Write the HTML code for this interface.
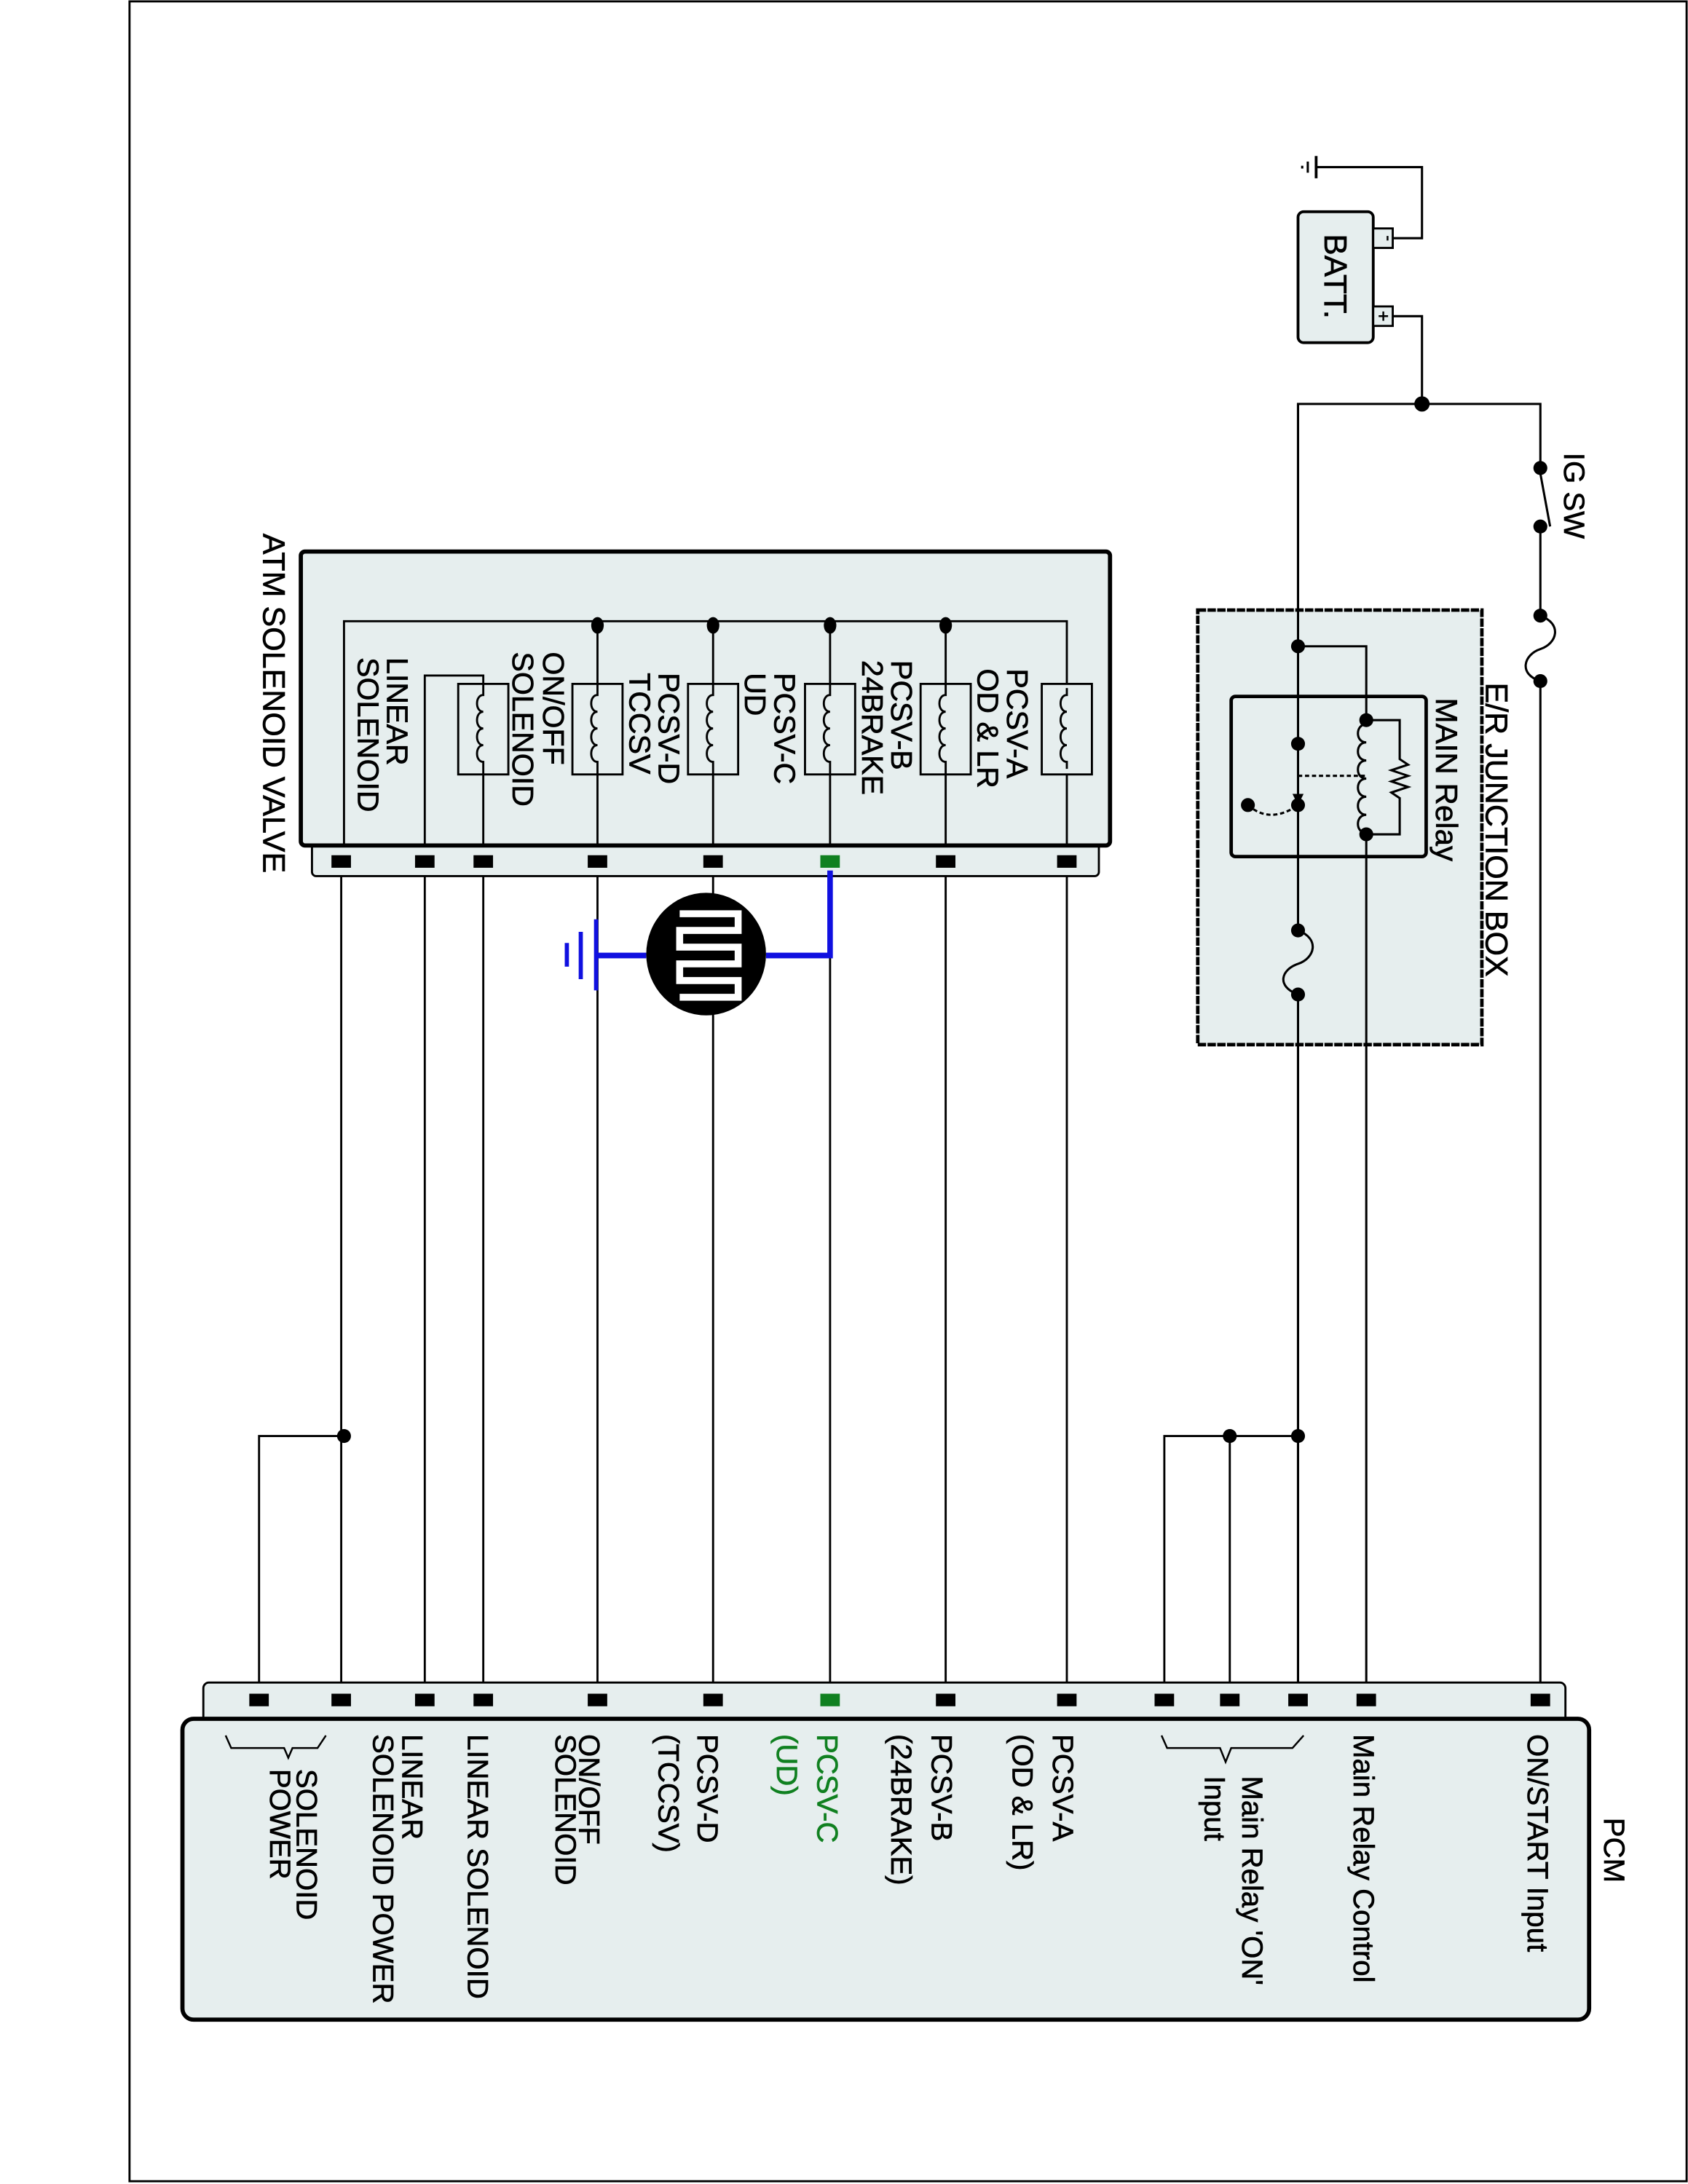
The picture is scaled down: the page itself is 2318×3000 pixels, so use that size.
<!DOCTYPE html>
<html><head><meta charset="utf-8"><style>
html,body{margin:0;padding:0;background:#fff}
svg{display:block}
text{font-family:"Liberation Sans",sans-serif;fill:#000;stroke:#000;stroke-width:0.35}
</style></head><body>
<svg width="2318" height="3000" viewBox="0 0 1212 1568" preserveAspectRatio="none" xmlns="http://www.w3.org/2000/svg">
<rect x="0" y="0" width="1212" height="1568" fill="#fff"/>
<rect x="93" y="1" width="1118" height="1565" fill="none" stroke="#000" stroke-width="1.5"/>

<g stroke="#000" stroke-width="1.6" fill="none">
<polyline points="1000,171 1021,171 1021,120 945,120"/>
<line x1="945" y1="112" x2="945" y2="128" stroke-width="2"/>
<line x1="939" y1="116" x2="939" y2="124"/>
<line x1="935" y1="119" x2="935" y2="121"/>
<polyline points="1000,227 1021,227 1021,290"/>
<polyline points="932,1220 932,290 1106,290 1106,1220"/>
</g>
<rect x="932" y="152" width="54" height="94" rx="4" fill="#e6eeee" stroke="#000" stroke-width="2"/>
<rect x="986" y="164" width="14" height="14" fill="#e6eeee" stroke="#000" stroke-width="1.5"/>
<rect x="986" y="220" width="14" height="14" fill="#e6eeee" stroke="#000" stroke-width="1.5"/>
<text transform="translate(993,171) rotate(90)" font-size="12" text-anchor="middle">-</text>
<text transform="translate(989,227) rotate(90)" font-size="13" text-anchor="middle">+</text>
<text transform="translate(951,168) rotate(90)" font-size="23">BATT.</text>
<circle cx="1021" cy="290" r="5.5" fill="#000"/>

<rect x="1100" y="340" width="12" height="34" fill="#fff"/>
<circle cx="1106" cy="336" r="5" fill="#000"/>
<circle cx="1106" cy="378" r="5" fill="#000"/>
<line x1="1106" y1="340" x2="1113" y2="378" stroke="#000" stroke-width="1.6"/>
<text transform="translate(1123,325) rotate(90)" font-size="21">IG SW</text>

<rect x="860" y="438" width="204" height="312" fill="#e6eeee" stroke="#000" stroke-width="2.5" stroke-dasharray="6,1"/>
<rect x="1100" y="446" width="12" height="40" fill="#fff"/>
<path d="M1106,442 C1122,448 1118,462 1106,466 C1094,470 1090,484 1106,489" fill="none" stroke="#000" stroke-width="1.6"/>
<circle cx="1106" cy="442" r="5" fill="#000"/>
<circle cx="1106" cy="489" r="5" fill="#000"/>
<text transform="translate(1067,490) rotate(90)" font-size="22.5">E/R JUNCTION BOX</text>

<rect x="884" y="500" width="140" height="115" rx="3" fill="#e6eeee" stroke="#000" stroke-width="2.5"/>
<text transform="translate(1031,501) rotate(90)" font-size="22">MAIN Relay</text>
<g stroke="#000" stroke-width="1.6" fill="none">
<line x1="932" y1="290" x2="932" y2="1220"/>
<polyline points="932,464 981,464 981,1220"/>
<rect x="975" y="520" width="12" height="76" fill="#e6eeee" stroke="none"/>
<path d="M981,520 c-8,0 -8,13 0,13 c-8,0 -8,13 0,13 c-8,0 -8,13 0,13 c-8,0 -8,13 0,13 c-8,0 -8,13 0,13 c-8,0 -8,13 0,13"/>
<polyline points="981,517 1005,517 1005,545 1011,549 999,553 1011,557 999,561 1011,565 999,569 1005,573 1005,599 981,599"/>
<line x1="932" y1="557" x2="981" y2="557" stroke-dasharray="3,2"/>
<path d="M896,578 Q912,592 932,578" stroke-dasharray="3,2"/>
</g>
<polygon points="928,570 936,570 932,578" fill="#000"/>
<circle cx="932" cy="464" r="5" fill="#000"/>
<circle cx="932" cy="534" r="5" fill="#000"/>
<circle cx="932" cy="578" r="5" fill="#000"/>
<circle cx="896" cy="578" r="5" fill="#000"/>
<circle cx="981" cy="517" r="5" fill="#000"/>
<circle cx="981" cy="599" r="5" fill="#000"/>
<rect x="926" y="672" width="12" height="38" fill="#e6eeee"/>
<path d="M932,668 C948,674 944,688 932,692 C920,696 916,708 932,714" fill="none" stroke="#000" stroke-width="1.6"/>
<circle cx="932" cy="668" r="5" fill="#000"/>
<circle cx="932" cy="714" r="5" fill="#000"/>

<rect x="224" y="600" width="565" height="29" rx="3" fill="#e6eeee" stroke="#000" stroke-width="1.5"/>
<rect x="216" y="396" width="581" height="211" rx="3" fill="#e6eeee" stroke="#000" stroke-width="3"/>
<text transform="translate(189,383) rotate(90)" font-size="22.5">ATM SOLENOID VALVE</text>
<g stroke="#000" stroke-width="1.5" fill="none">
<polyline points="247,607 247,446 766,446 766,491"/>
<line x1="679" y1="446" x2="679" y2="491"/>
<line x1="596" y1="446" x2="596" y2="491"/>
<line x1="512" y1="446" x2="512" y2="491"/>
<line x1="429" y1="446" x2="429" y2="491"/>
<polyline points="305,607 305,485 347,485 347,491"/>
</g>
<g fill="none" stroke="#000" stroke-width="1.5">
<rect x="748" y="491" width="36" height="65"/><rect x="661" y="491" width="36" height="65"/>
<rect x="578" y="491" width="36" height="65"/><rect x="494" y="491" width="36" height="65"/>
<rect x="411" y="491" width="36" height="65"/><rect x="329" y="491" width="36" height="65"/>
<path d="M766,494 v5 c-6,0 -6,12 0,12 c-6,0 -6,12 0,12 c-6,0 -6,12 0,12 c-6,0 -6,12 0,12 v5 M766,556 v51"/>
<path d="M679,491 v8 c-6,0 -6,12 0,12 c-6,0 -6,12 0,12 c-6,0 -6,12 0,12 c-6,0 -6,12 0,12 v8 v51"/>
<path d="M596,491 v8 c-6,0 -6,12 0,12 c-6,0 -6,12 0,12 c-6,0 -6,12 0,12 c-6,0 -6,12 0,12 v8 v51"/>
<path d="M512,491 v8 c-6,0 -6,12 0,12 c-6,0 -6,12 0,12 c-6,0 -6,12 0,12 c-6,0 -6,12 0,12 v8 v51"/>
<path d="M429,491 v8 c-6,0 -6,12 0,12 c-6,0 -6,12 0,12 c-6,0 -6,12 0,12 c-6,0 -6,12 0,12 v8 v51"/>
<path d="M347,491 v8 c-6,0 -6,12 0,12 c-6,0 -6,12 0,12 c-6,0 -6,12 0,12 c-6,0 -6,12 0,12 v8 v51"/>
</g>
<g fill="#000"><ellipse cx="429" cy="449" rx="4.5" ry="6"/><ellipse cx="512" cy="449" rx="4.5" ry="6"/><ellipse cx="596" cy="449" rx="4.5" ry="6"/><ellipse cx="679" cy="449" rx="4.5" ry="6"/></g>
<g font-size="21.5">
<text transform="translate(723,480) rotate(90)">PCSV-A</text>
<text transform="translate(702,480) rotate(90)">OD &amp; LR</text>
<text transform="translate(640,474) rotate(90)">PCSV-B</text>
<text transform="translate(619,474) rotate(90)">24BRAKE</text>
<text transform="translate(556,483) rotate(90)">PCSV-C</text>
<text transform="translate(535,483) rotate(90)">UD</text>
<text transform="translate(473,483) rotate(90)">PCSV-D</text>
<text transform="translate(452,483) rotate(90)">TCCSV</text>
<text transform="translate(390,468) rotate(90)">ON/OFF</text>
<text transform="translate(368,468) rotate(90)">SOLENOID</text>
<text transform="translate(278,472) rotate(90)">LINEAR</text>
<text transform="translate(257,472) rotate(90)">SOLENOID</text>
</g>

<g stroke="#000" stroke-width="1.5" fill="none">
<line x1="245" y1="629" x2="245" y2="1220"/>
<polyline points="245,1031 186,1031 186,1220"/>
<line x1="305" y1="629" x2="305" y2="1220"/>
<line x1="347" y1="629" x2="347" y2="1220"/>
<line x1="429" y1="629" x2="429" y2="1220"/>
<line x1="512" y1="629" x2="512" y2="1220"/>
<line x1="596" y1="686" x2="596" y2="1220"/>
<line x1="679" y1="629" x2="679" y2="1220"/>
<line x1="766" y1="629" x2="766" y2="1220"/>
<polyline points="932,1031 836,1031 836,1220"/>
<line x1="883" y1="1031" x2="883" y2="1220"/>
</g>
<circle cx="247" cy="1031" r="5" fill="#000"/>
<circle cx="883" cy="1031" r="5" fill="#000"/>
<circle cx="932" cy="1031" r="5" fill="#000"/>

<polyline points="596,625 596,686 550,686" fill="none" stroke="#1010e0" stroke-width="4"/>
<line x1="464" y1="686" x2="428" y2="686" stroke="#1010e0" stroke-width="4"/>
<line x1="428" y1="660" x2="428" y2="711" stroke="#1010e0" stroke-width="3"/>
<line x1="417" y1="669" x2="417" y2="703" stroke="#1010e0" stroke-width="3"/>
<line x1="407" y1="677" x2="407" y2="694" stroke="#1010e0" stroke-width="3"/>
<ellipse cx="507" cy="685" rx="43" ry="44" fill="#000"/>
<polyline points="488,656 530,656 530,668 488,668 488,680 530,680 530,692 488,692 488,704 530,704 530,716 488,716" fill="none" stroke="#fff" stroke-width="5"/>

<rect x="146" y="1208" width="978" height="32" rx="4" fill="#e6eeee" stroke="#000" stroke-width="1.5"/>
<rect x="131" y="1234" width="1010" height="216" rx="8" fill="#e6eeee" stroke="#000" stroke-width="3"/>
<g fill="#000">
<rect x="179" y="1216" width="14" height="9"/><rect x="238" y="1216" width="14" height="9"/>
<rect x="298" y="1216" width="14" height="9"/><rect x="340" y="1216" width="14" height="9"/>
<rect x="422" y="1216" width="14" height="9"/><rect x="505" y="1216" width="14" height="9"/>
<rect x="589" y="1216" width="14" height="9" fill="#108020"/><rect x="672" y="1216" width="14" height="9"/>
<rect x="759" y="1216" width="14" height="9"/><rect x="829" y="1216" width="14" height="9"/>
<rect x="876" y="1216" width="14" height="9"/><rect x="925" y="1216" width="14" height="9"/>
<rect x="974" y="1216" width="14" height="9"/><rect x="1099" y="1216" width="14" height="9"/>
<rect x="238" y="614" width="14" height="9"/><rect x="298" y="614" width="14" height="9"/>
<rect x="340" y="614" width="14" height="9"/><rect x="422" y="614" width="14" height="9"/>
<rect x="505" y="614" width="14" height="9"/><rect x="589" y="614" width="14" height="9" fill="#108020"/>
<rect x="672" y="614" width="14" height="9"/><rect x="759" y="614" width="14" height="9"/>
</g>
<g font-size="21">
<text transform="translate(1152,1305) rotate(90)">PCM</text>
<text transform="translate(1097,1245) rotate(90)">ON/START Input</text>
<text transform="translate(972,1245) rotate(90)">Main Relay Control</text>
<text transform="translate(892,1275) rotate(90)">Main Relay 'ON'</text>
<text transform="translate(865,1275) rotate(90)">Input</text>
<text transform="translate(756,1245) rotate(90)">PCSV-A</text>
<text transform="translate(727,1245) rotate(90)">(OD &amp; LR)</text>
<text transform="translate(669,1245) rotate(90)">PCSV-B</text>
<text transform="translate(640,1245) rotate(90)">(24BRAKE)</text>
<text transform="translate(587,1245) rotate(90)" style="fill:#108020;stroke:#108020">PCSV-C</text>
<text transform="translate(558,1245) rotate(90)" style="fill:#108020;stroke:#108020">(UD)</text>
<text transform="translate(501,1245) rotate(90)">PCSV-D</text>
<text transform="translate(473,1245) rotate(90)">(TCCSV)</text>
<text transform="translate(416,1245) rotate(90)">ON/OFF</text>
<text transform="translate(399,1245) rotate(90)">SOLENOID</text>
<text transform="translate(336,1245) rotate(90)">LINEAR SOLENOID</text>
<text transform="translate(289,1245) rotate(90)">LINEAR</text>
<text transform="translate(268,1245) rotate(90)">SOLENOID POWER</text>
<text transform="translate(213,1270) rotate(90)">SOLENOID</text>
<text transform="translate(194,1270) rotate(90)">POWER</text>
</g>
<g stroke="#000" stroke-width="1.3" fill="none">
<polyline points="162,1246 166,1255 204,1255 207,1262 210,1255 228,1255 234,1246"/>
<polyline points="834,1246 838,1255 876,1255 880,1265 884,1255 928,1255 936,1246"/>
</g>
</svg>
</body></html>
